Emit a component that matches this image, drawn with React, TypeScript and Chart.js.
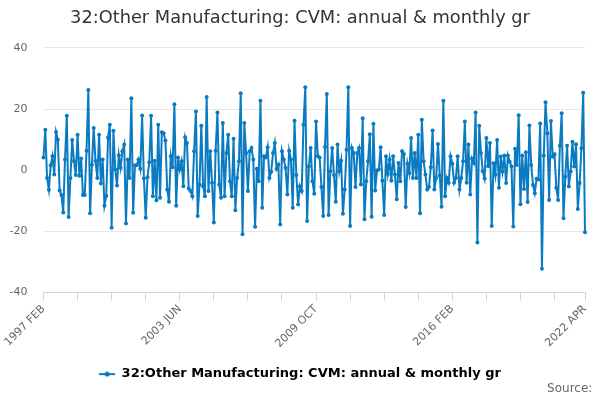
import { useEffect, useRef } from "react";
import { Chart, ChartConfiguration, registerables } from "chart.js";

Chart.register(...registerables);

const TITLE = "32:Other Manufacturing: CVM: annual & monthly gr";
const SERIES_NAME = "32:Other Manufacturing: CVM: annual & monthly gr";
const SOURCE = "Source:";
const MONTHS = ["JAN", "FEB", "MAR", "APR", "MAY", "JUN", "JUL", "AUG", "SEP", "OCT", "NOV", "DEC"];
const START_YEAR = 1997;
const START_MONTH = 1; // FEB

// monthly growth, 1997 FEB .. 2022 APR
const values1 = [
  4.2, 13.2, -2.5, -6.4, 1.6, 4.6, -1.4, 12.5, 10, -6.6, -8.1, -13.8, 3.5, 17.8, -15.3, -2.5, 9.9,
  2.9, -1.6, 11.6, -1.8, 3.8, -8.1, -8.1, 6.4, 26.2, -14.1, 1.8, 13.8, 3, -2.5, 11.6, -4.3, 3.5,
  -11.6, -8.4, 10.7, 14.9, -18.8, 12.9, 0.2, -5, 4.9, 0.8, 6.2, 8.4, -17.4, 3.5, -2.5, 23.5, -13.9,
];
const values2 = [
  1.6, 1.6, 3.5, 0.5, 17.9, -2.7, -15.5, -2.3, 2.6, 17.8, -8.5, 3.1, -9.8, 14.9, -9, 12.4, 12.1,
  9.7, -6.3, -10.3, 4.6, 1, 21.6, -11.6, 4.2, 0.2, 2.9, -5.2, 10.8, 8.9, -6, -6.8, -8.5, 6.2, 19.2,
  -15, -4.7, 14.5, -5.2, -8.5, 23.9, -6.8, 6.2, -4.1, -17.1, 6.4, 18.9, -4.7, -9, 15.4,
];
const values3 = [
  -8.5, 5.6, 11.6, -3.6, -8.5, 10.3, -13.1, -2.5, 2.9, 25.2, -20.9, 15.4, 5.6, -6.8, 6.2, 7.3, 3.5,
  -18.5, 0.5, -3.6, 22.7, -12.3, 4.6, 4.2, 7.5, -2.5, -0.5, 5.6, 8.9, 0.5, 1.8, -17.7, 6.2, 3.5,
  0.8, -7.9, 6.4, 3.5, -12.3, 16.2, -1.6, -11.2, -5.2, -6.8, 14.9, 27.1, -16.6, 1.3, 7.3, -3.6, -7.7,
];
const values4 = [
  15.9, 4.6, 4.2, -5.5, -15, 7.6, 24.9, -14.6, -0.3, 7.3, -1.6, -10.3, 8.4, -0.3, 3.1, -14.2, -6.3,
  6.7, 27.1, -18.2, 7.3, 5.6, -5.5, 5.6, 7.3, -4.7, 17, -16, -3.6, 2.9, 11.8, -15.2, 15.2, -6.6,
  -0.1, 0.2, 7.5, -3.4, -14.6, 4.6, -1.2, 3.5, -3.4, 4.6, -1.4, -9.5, 2.4, -3.6, 6.2, 5.3, -12,
];
const values5 = [
  2.1, -0.9, 10.5, -2.5, 5.6, -2.5, 11.6, -14.1, 16.5, 2.9, -1.4, -6.3, -5.5, 1, 13, -6.3, -2.5,
  8.6, -1.7, -11.9, 22.7, -8.5, -2.5, -4.1, 4.6, 2.1, -4.1, -2.5, 4.6, -6.3, -2.5, 2.9, 15.9, -4.1,
  8.4, -7.9, 3.8, 2.4, 18.9, -23.6, 14.5, 5.6, -0.3, -2.7, 10.5, 1.3, 8.9, -18.2,
];
const values6 = [
  2.3, -1.5, 9.9, -5.7, 4.5, -0.4, 4.8, -4.2, 4.8, 2.8, 1.2, -18.4, 7, 1.7, 18, -11.1, 4.8, -6.1,
  5.9, -10.4, 14.6, 1.7, -4.8, -7.5, -2.8, -3, 15.3, -32.2, 4.8, 22.2, 12.1, -9.7, 16.1, 4.5, 5.2,
  -5.7, -9.7, 8, 18.6, -15.7, -2.1, 8, -5.3, -0.4, 9.3, 1.2, 8.5, -12.7, -4.2, 7.2, 25.3, -20.3,
];
const values = [...values1, ...values2, ...values3, ...values4, ...values5, ...values6];

const labels = values.map((_, i) => {
  const m = START_MONTH + i;
  return `${START_YEAR + Math.floor(m / 12)} ${MONTHS[m % 12]}`;
});

const Y_TICKS = [-40, -20, 0, 20, 40];
const TICK_EVERY = 19;
const LABEL_EVERY = 76;

const BLUE = "#0b7bc1";

// little "line with a dot" swatch for the legend
function legendMarker() {
  const c = document.createElement("canvas");
  c.width = 16;
  c.height = 6;
  const g = c.getContext("2d")!;
  g.strokeStyle = BLUE;
  g.lineWidth = 2;
  g.beginPath();
  g.moveTo(0, 3);
  g.lineTo(16, 3);
  g.stroke();
  g.fillStyle = BLUE;
  g.beginPath();
  g.arc(8, 3, 2.5, 0, Math.PI * 2);
  g.fill();
  return c;
}

export default function App() {
  const canvasRef = useRef<HTMLCanvasElement>(null);
  const chartRef = useRef<Chart | null>(null);

  useEffect(() => {
    document.body.style.margin = "0";
    if (!canvasRef.current) return;
    chartRef.current?.destroy();
    const ctx = canvasRef.current.getContext("2d");
    if (!ctx) return;

    Chart.defaults.font.family = "'DejaVu Sans', sans-serif";
    const last = values.length - 1;
    const marker = legendMarker();

    const config: ChartConfiguration = {
      type: "line",
      data: {
        labels,
        datasets: [
          {
            label: SERIES_NAME,
            data: values,
            borderColor: BLUE,
            backgroundColor: BLUE,
            borderWidth: 2,
            pointRadius: 2,
            pointBackgroundColor: BLUE,
            pointBorderWidth: 0,
            tension: 0,
          },
        ],
      },
      options: {
        responsive: true,
        maintainAspectRatio: false,
        animation: false,
        layout: { padding: 0 },
        plugins: {
          title: {
            display: true,
            text: TITLE,
            color: "#333333",
            font: { size: 17.8, weight: "normal" },
            padding: { top: 8, bottom: 18.5 },
          },
          subtitle: {
            display: true,
            // two trailing nbsp keep it off the right edge
            text: SOURCE + "\u00a0\u00a0",
            position: "bottom",
            align: "end",
            color: "#666666",
            font: { size: 12, weight: "normal" },
            padding: { top: -9, bottom: 4 },
          },
          legend: {
            position: "bottom",
            labels: {
              color: "#333333",
              font: { size: 13, weight: "bold" },
              usePointStyle: true,
              pointStyleWidth: 16,
              padding: 8,
              generateLabels: (chart) => [
                {
                  text: SERIES_NAME,
                  pointStyle: marker as any,
                  fillStyle: BLUE,
                  strokeStyle: BLUE,
                  lineWidth: 0,
                  hidden: !chart.isDatasetVisible(0),
                  datasetIndex: 0,
                },
              ],
            },
          },
          tooltip: { enabled: false },
        },
        scales: {
          x: {
            type: "category",
            offset: false,
            afterBuildTicks: (axis: any) => {
              const idx: number[] = [];
              for (let i = 0; i < last; i += TICK_EVERY) idx.push(i);
              idx.push(last);
              axis.ticks = idx.map((v) => ({ value: v }));
            },
            afterFit: (axis: any) => {
              axis.height = 67;
            },
            ticks: {
              autoSkip: false,
              maxRotation: 45,
              minRotation: 45,
              padding: 2,
              color: "#666666",
              font: { size: 11 },
              callback: function (this: any, value: any) {
                const v = Number(value);
                if (v % LABEL_EVERY === 0 || v === last) return labels[v];
                return "";
              },
            },
            grid: {
              drawOnChartArea: false,
              drawTicks: true,
              tickLength: 8,
              color: "#ccd6eb",
            },
            border: { display: true, color: "#ccd6eb", width: 1 },
          },
          y: {
            min: -40,
            max: 40,
            afterBuildTicks: (axis: any) => {
              axis.ticks = Y_TICKS.map((v) => ({ value: v }));
            },
            afterFit: (axis: any) => {
              axis.width = 43.5;
            },
            ticks: {
              color: "#666666",
              font: { size: 11 },
              padding: 16,
            },
            grid: {
              drawTicks: false,
              color: (c: any) => (c.tick && c.tick.value === -40 ? "rgba(0,0,0,0)" : "#e6e6e6"),
            },
            border: { display: false },
          },
          // empty right-hand axis, only keeps a margin on the right
          yRight: {
            position: "right",
            min: -40,
            max: 40,
            afterFit: (axis: any) => {
              axis.width = 15;
            },
            ticks: { display: false },
            grid: { display: false, drawTicks: false },
            border: { display: false },
          },
        },
      },
    };

    chartRef.current = new Chart(ctx, config);
    return () => {
      chartRef.current?.destroy();
    };
  }, []);

  return (
    <div style={{ width: 600, height: 400, position: "relative" }}>
      <canvas ref={canvasRef} />
    </div>
  );
}
